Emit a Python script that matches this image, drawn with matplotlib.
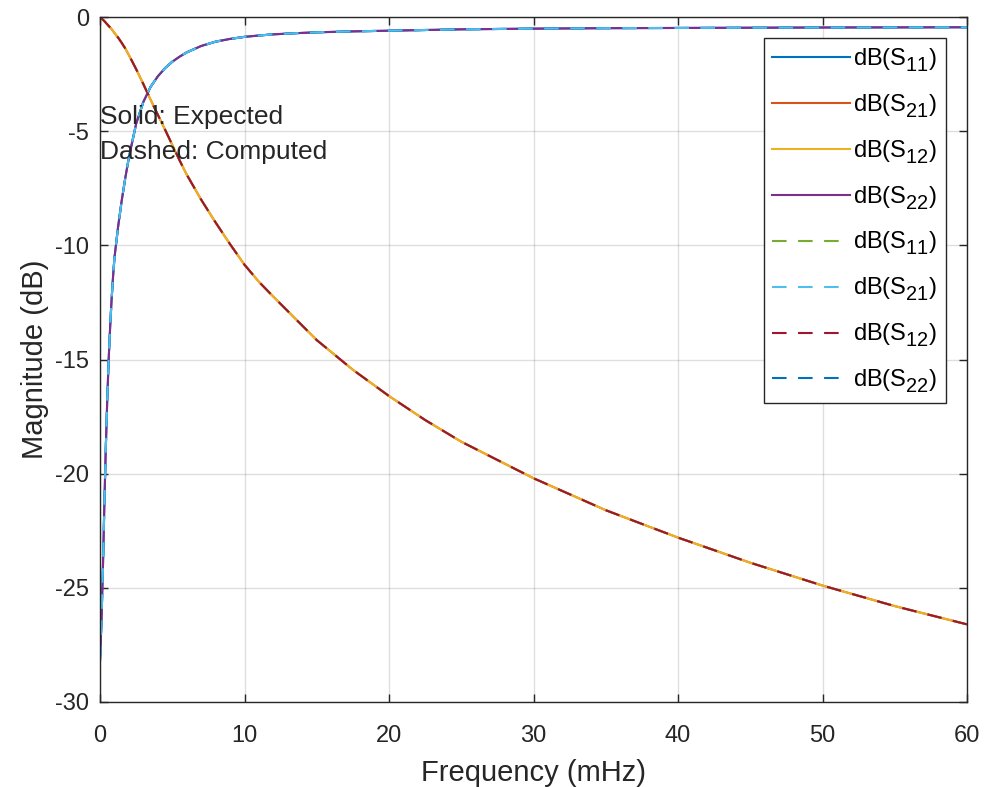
import matplotlib
matplotlib.use('Agg')
import matplotlib.pyplot as plt
import matplotlib._mathtext as _mt

_mt.SHRINK_FACTOR = 0.85
for _name in ('FontConstantsBase', 'DejaVuSansFontConstants'):
    _cls = getattr(_mt, _name, None)
    if _cls is not None:
        _cls.sub1 = 0.5
        _cls.sub2 = 0.6

plt.rcParams['font.family'] = ['Liberation Sans', 'DejaVu Sans']
plt.rcParams['axes.unicode_minus'] = False

# Frequency samples (mHz)
freq = [0, 0.1, 0.2, 0.3, 0.4, 0.5, 0.6, 0.7, 0.8, 0.9, 1.0, 1.25, 1.5, 1.75,
        2.0, 2.5, 3.0, 3.5, 4.0, 4.5, 5.0, 5.5, 6.0, 7.0, 8.0, 9.0, 10, 11,
        12, 13.5, 15, 17.5, 20, 22.5, 25, 30, 35, 40, 45, 50, 55, 60]

# Reflection magnitude (dB) - S11 / S22
refl_db = [-28.2, -26.5, -24.2, -21.4, -18.9, -16.8, -15.0, -13.6, -12.4,
           -11.4, -10.55, -9.2, -8.05, -7.05, -6.15, -4.68, -3.72, -3.06,
           -2.6, -2.24, -1.96, -1.74, -1.55, -1.27, -1.08, -0.96, -0.87,
           -0.81, -0.76, -0.71, -0.67, -0.63, -0.60, -0.57, -0.54, -0.51,
           -0.49, -0.48, -0.47, -0.46, -0.455, -0.45]

# Transmission magnitude (dB) - S21 / S12
trans_db = [0.0, -0.06, -0.12, -0.18, -0.25, -0.32, -0.39, -0.46, -0.53,
            -0.61, -0.7, -0.9, -1.13, -1.38, -1.67, -2.28, -2.94, -3.62,
            -4.28, -4.93, -5.6, -6.27, -6.9, -8.0, -9.0, -9.95, -10.85,
            -11.6, -12.25, -13.2, -14.15, -15.45, -16.6, -17.65, -18.6,
            -20.2, -21.6, -22.8, -23.9, -24.9, -25.8, -26.6]

labels = [r'$\mathregular{dB(S_{11})}$', r'$\mathregular{dB(S_{21})}$',
          r'$\mathregular{dB(S_{12})}$', r'$\mathregular{dB(S_{22})}$']

colors = ['#0072BD', '#D95319', '#EDB120', '#7E2F8E',
          '#77AC30', '#4DBEEE', '#A2142F', '#0072BD']

fig = plt.figure(figsize=(9.85, 7.87), dpi=100)
ax = fig.add_axes([100/985, 85/787, 867/985, 685/787])

expected = [refl_db, trans_db, trans_db, refl_db]
computed = [trans_db, refl_db, trans_db, refl_db]
computed_z = [2.1, 2.4, 2.3, 2.2]

lw = 1.5
for i in range(4):
    ax.plot(freq, expected[i], color=colors[i], lw=lw, label=labels[i], zorder=2)
for i in range(4):
    ax.plot(freq, computed[i], color=colors[4 + i], lw=lw, ls='--',
            dashes=(7, 5.5), label=labels[i], zorder=computed_z[i])

ax.set_xlim(0, 60)
ax.set_ylim(-30, 0)
ax.set_xticks([0, 10, 20, 30, 40, 50, 60])
ax.set_yticks([-30, -25, -20, -15, -10, -5, 0])

edge = '#262626'
ax.grid(True, color=edge, alpha=0.15, lw=1)
ax.set_axisbelow(True)
for s in ax.spines.values():
    s.set_color(edge)
    s.set_linewidth(1.0)
ax.tick_params(direction='in', top=True, right=True, length=6, width=1,
               colors=edge, labelsize=17, labelcolor=edge)
ax.tick_params(axis='x', pad=16.5)
ax.tick_params(axis='y', pad=8)

ax.set_xlabel('Frequency (mHz)', fontsize=21, color=edge, labelpad=9)
ax.set_ylabel('Magnitude (dB)', fontsize=21, color=edge, labelpad=4)

ax.text(0, -4.4, 'Solid: Expected', fontsize=19, color=edge, va='center', ha='left')
ax.text(0, -5.9, 'Dashed: Computed', fontsize=19, color=edge, va='center', ha='left')

leg = ax.legend(loc='upper right', bbox_to_anchor=((946-100)/867, (702-38)/685),
                borderaxespad=0, fontsize=17, handlelength=3.3, handletextpad=0.13,
                labelspacing=0.78, borderpad=0.35, fancybox=False, framealpha=1,
                edgecolor=edge)
leg.get_frame().set_linewidth(1.0)

fig.savefig('out.png', dpi=100)
